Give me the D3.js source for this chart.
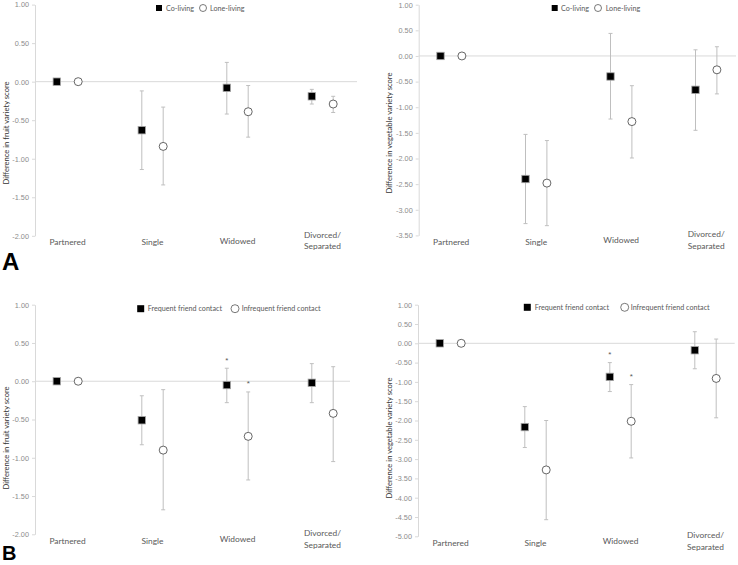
<!DOCTYPE html>
<html><head><meta charset="utf-8">
<script src="https://cdn.jsdelivr.net/npm/d3@7"></script>
<style>body{margin:0;background:#fff}svg{display:block}</style>
</head><body>
<svg id="chart" width="738" height="565"></svg>
<script>
// ---------- data ----------
const categories = ["Partnered", "Single", "Widowed", "Divorced/Separated"];
const legendA = ["Co-living", "Lone-living"];
const legendB = ["Frequent friend contact", "Infrequent friend contact"];

// Panel A – fruit variety
const aFruitCo = [0, -0.63, -0.08, -0.19];
const aFruitCoLo = [null, -1.14, -0.42, -0.29];
const aFruitCoHi = [null, -0.12, 0.25, -0.10];
const aFruitLone = [0, -0.84, -0.39, -0.29];
const aFruitLoneLo = [null, -1.34, -0.72, -0.40];
const aFruitLoneHi = [null, -0.33, -0.05, -0.19];
const aFruitTicks = [1, 0.5, 0, -0.5, -1, -1.5, -2];

// Panel A – vegetable variety
const aVegCo = [0, -2.40, -0.40, -0.66];
const aVegCoLo = [null, -3.27, -1.23, -1.45];
const aVegCoHi = [null, -1.53, 0.44, 0.12];
const aVegLone = [0, -2.48, -1.28, -0.27];
const aVegLoneLo = [null, -3.31, -1.99, -0.74];
const aVegLoneHi = [null, -1.65, -0.58, 0.18];
const aVegTicks = [1, 0.5, 0, -0.5, -1, -1.5, -2, -2.5, -3, -3.5];

// Panel B – fruit variety
const bFruitFreq = [0, -0.51, -0.05, -0.02];
const bFruitFreqLo = [null, -0.83, -0.28, -0.28];
const bFruitFreqHi = [null, -0.19, 0.17, 0.23];
const bFruitInf = [0, -0.90, -0.72, -0.42];
const bFruitInfLo = [null, -1.68, -1.29, -1.05];
const bFruitInfHi = [null, -0.11, -0.14, 0.19];
const bFruitTicks = [1, 0.5, 0, -0.5, -1, -1.5, -2];

// Panel B – vegetable variety
const bVegFreq = [0, -2.17, -0.87, -0.18];
const bVegFreqLo = [null, -2.70, -1.25, -0.66];
const bVegFreqHi = [null, -1.64, -0.50, 0.30];
const bVegInf = [0, -3.28, -2.02, -0.91];
const bVegInfLo = [null, -4.57, -2.97, -1.93];
const bVegInfHi = [null, -2.00, -1.07, 0.11];
const bVegTicks = [1, 0.5, 0, -0.5, -1, -1.5, -2, -2.5, -3, -3.5, -4, -4.5, -5];

// significance markers (*) for panel B
const bSigFreq = [false, false, true, false];
const bSigInf = [false, false, true, false];

// ---------- drawing ----------
const svg = d3.select("#chart");
const fmt = v => v.toFixed(2);

function drawPanel(p) {
  const g = svg.append("g");
  const y = d3.scaleLinear().domain([p.ticks[p.ticks.length - 1], p.ticks[0]]).range([p.yBottom, p.yTop]);
  const x = d3.scalePoint().domain(categories).range([p.axisX + 32.5, p.axisX + 32.5 + 255]);
  const off = 10.7;

  // zero line
  g.append("line").attr("x1", p.axisX).attr("x2", p.xEnd)
    .attr("y1", y(0)).attr("y2", y(0)).attr("stroke", "#d9d9d9").attr("stroke-width", 1);

  // y axis
  const ax = g.append("g").attr("transform", `translate(${p.axisX},0)`)
    .call(d3.axisLeft(y).tickValues(p.ticks).tickFormat(fmt).tickSize(3).tickPadding(3).tickSizeOuter(0));
  ax.select(".domain").attr("stroke", "#d9d9d9");
  ax.selectAll(".tick line").attr("stroke", "#d9d9d9");
  ax.selectAll(".tick text").attr("fill", "#8c8c8c").style("font-family", "Liberation Sans, Arial, sans-serif").style("font-size", "7.3px");

  // y title
  g.append("text").attr("transform", `translate(${p.titleX},${p.titleY}) rotate(-90)`)
    .attr("text-anchor", "middle").attr("fill", "#333")
    .style("font-family", "Lato, sans-serif").style("font-size", "7.6px").text(p.title);

  // category labels
  categories.forEach(c => {
    const parts = c === "Divorced/Separated" ? ["Divorced/", "Separated"] : [c];
    const t = g.append("text").attr("text-anchor", "middle").attr("fill", "#595959")
      .style("font-family", "Lato, sans-serif").style("font-size", "8.4px");
    if (parts.length === 1) {
      t.append("tspan").attr("x", x(c)).attr("y", p.yBottom + 9.3 - (c === "Widowed" ? 1.5 : 0)).text(c);
    } else {
      t.append("tspan").attr("x", x(c)).attr("y", p.yBottom + 2).text(parts[0]);
      t.append("tspan").attr("x", x(c)).attr("y", p.yBottom + 13.3).text(parts[1]);
    }
  });

  // series
  const series = [
    {vals: p.s1, lo: p.s1Lo, hi: p.s1Hi, sig: p.s1Sig, dx: -off, shape: "square"},
    {vals: p.s2, lo: p.s2Lo, hi: p.s2Hi, sig: p.s2Sig, dx: off, shape: "circle"}
  ];
  series.forEach(s => {
    categories.forEach((c, i) => {
      const cx = x(c) + s.dx;
      if (s.lo[i] !== null) {
        g.append("line").attr("x1", cx).attr("x2", cx).attr("y1", y(s.hi[i])).attr("y2", y(s.lo[i]))
          .attr("stroke", "#bfbfbf").attr("stroke-width", 1);
        [s.hi[i], s.lo[i]].forEach(v => g.append("line").attr("x1", cx - 2).attr("x2", cx + 2)
          .attr("y1", y(v)).attr("y2", y(v)).attr("stroke", "#bfbfbf").attr("stroke-width", 1));
      }
      if (s.sig && s.sig[i]) {
        g.append("text").attr("x", cx).attr("y", y(s.hi[i]) - 5.5).attr("text-anchor", "middle")
          .attr("fill", "#595959").style("font-family", "Liberation Sans, sans-serif").style("font-size", "8px").text("*");
      }
    });
  });
  series.forEach(s => {
    categories.forEach((c, i) => {
      const cx = x(c) + s.dx, cy = y(s.vals[i]);
      if (s.shape === "square") {
        g.append("rect").attr("x", cx - 3.7).attr("y", cy - 3.7).attr("width", 7.4).attr("height", 7.4)
          .attr("fill", "#000").attr("stroke", "#a6a6a6").attr("stroke-width", 0.8);
      } else {
        g.append("circle").attr("cx", cx).attr("cy", cy).attr("r", 4)
          .attr("fill", "#fff").attr("stroke", "#404040").attr("stroke-width", 0.8);
      }
    });
  });

  // legend
  const L = p.legend;
  const lg = g.append("g");
  lg.append("rect").attr("x", L.sqX - L.sq / 2).attr("y", L.y - L.sq / 2).attr("width", L.sq).attr("height", L.sq).attr("fill", "#000");
  lg.append("text").attr("x", L.t1X).attr("y", L.y + 2.5).attr("fill", "#595959")
    .style("font-family", "Lato, sans-serif").style("font-size", "7.2px").text(p.legendText[0]);
  lg.append("circle").attr("cx", L.cX).attr("cy", L.y).attr("r", L.r).attr("fill", "#fff").attr("stroke", "#404040").attr("stroke-width", 0.7);
  lg.append("text").attr("x", L.t2X).attr("y", L.y + 2.5).attr("fill", "#595959")
    .style("font-family", "Lato, sans-serif").style("font-size", "7.2px").text(p.legendText[1]);
}

drawPanel({
  axisX: 35, yTop: 4.6, yBottom: 235.8, xEnd: 357, ticks: aFruitTicks,
  title: "Difference in fruit variety score", titleX: 9, titleY: 133,
  s1: aFruitCo, s1Lo: aFruitCoLo, s1Hi: aFruitCoHi,
  s2: aFruitLone, s2Lo: aFruitLoneLo, s2Hi: aFruitLoneHi,
  legendText: legendA,
  legend: {y: 8, sqX: 159, sq: 6, t1X: 166, cX: 203, r: 3.5, t2X: 210}
});
drawPanel({
  axisX: 418.7, yTop: 4.7, yBottom: 235.4, xEnd: 736, ticks: aVegTicks,
  title: "Difference in vegetable variety score", titleX: 392, titleY: 133,
  s1: aVegCo, s1Lo: aVegCoLo, s1Hi: aVegCoHi,
  s2: aVegLone, s2Lo: aVegLoneLo, s2Hi: aVegLoneHi,
  legendText: legendA,
  legend: {y: 8, sqX: 554.7, sq: 6, t1X: 561, cX: 598, r: 3.5, t2X: 605.7}
});
drawPanel({
  axisX: 35, yTop: 304.7, yBottom: 534.3, xEnd: 350, ticks: bFruitTicks,
  title: "Difference in fruit variety score", titleX: 9, titleY: 438,
  s1: bFruitFreq, s1Lo: bFruitFreqLo, s1Hi: bFruitFreqHi, s1Sig: bSigFreq,
  s2: bFruitInf, s2Lo: bFruitInfLo, s2Hi: bFruitInfHi, s2Sig: bSigInf,
  legendText: legendB,
  legend: {y: 308.7, sqX: 140.7, sq: 7, t1X: 147.7, cX: 235, r: 4, t2X: 241.7}
});
drawPanel({
  axisX: 418, yTop: 304.7, yBottom: 536.3, xEnd: 734.7, ticks: bVegTicks,
  title: "Difference in vegetable variety score", titleX: 392, titleY: 438,
  s1: bVegFreq, s1Lo: bVegFreqLo, s1Hi: bVegFreqHi, s1Sig: bSigFreq,
  s2: bVegInf, s2Lo: bVegInfLo, s2Hi: bVegInfHi, s2Sig: bSigInf,
  legendText: legendB,
  legend: {y: 307.3, sqX: 527.3, sq: 7, t1X: 534.7, cX: 624.7, r: 4, t2X: 630.7}
});

// panel letters
svg.append("text").attr("x", 2).attr("y", 270).attr("fill", "#000")
  .style("font-family", "Liberation Sans, Arial, sans-serif").style("font-weight", "bold").style("font-size", "24px").text("A");
svg.append("text").attr("x", 2).attr("y", 560).attr("fill", "#000")
  .style("font-family", "Liberation Sans, Arial, sans-serif").style("font-weight", "bold").style("font-size", "20px").text("B");
</script>
</body></html>
